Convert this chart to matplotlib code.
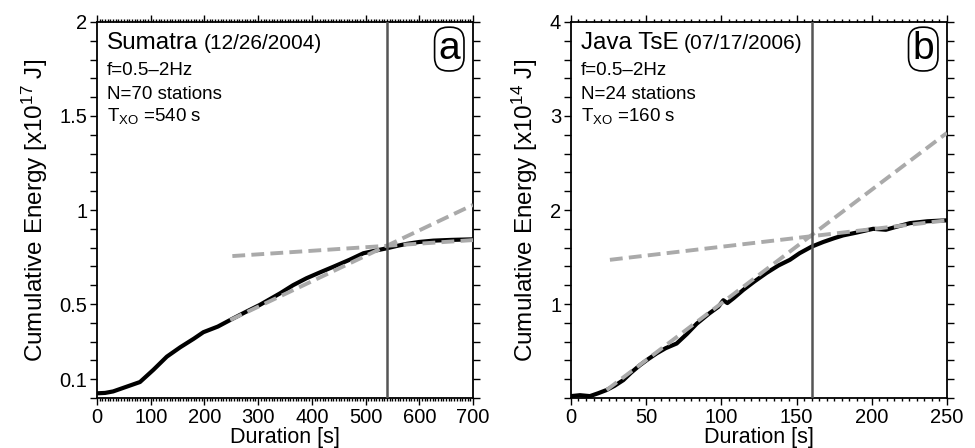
import numpy as np
import matplotlib
matplotlib.use('Agg')
import matplotlib.pyplot as plt
from matplotlib.ticker import MultipleLocator, FixedLocator

plt.rcParams['font.family'] = ['Liberation Sans', 'DejaVu Sans']
plt.rcParams['mathtext.fontset'] = 'custom'
plt.rcParams['mathtext.rm'] = 'Liberation Sans'
plt.rcParams['mathtext.it'] = 'Liberation Sans'

# --- panel a: Sumatra ---
sum_t = [0, 15, 30, 55, 80, 105, 130, 155, 180, 198, 225, 248, 275, 303, 341, 365, 390,
         415, 440, 470, 496, 520, 539, 560, 577, 600, 626, 660, 700]
sum_e = [0.025, 0.027, 0.035, 0.06, 0.085, 0.15, 0.22, 0.27, 0.315, 0.35, 0.38, 0.415,
         0.455, 0.495, 0.557, 0.6, 0.637, 0.668, 0.698, 0.735, 0.77, 0.785, 0.796,
         0.81, 0.82, 0.83, 0.837, 0.841, 0.844]
sum_fit1_t, sum_fit1_e = [248, 700], [0.415, 1.027]
sum_fit2_t, sum_fit2_e = [252, 700], [0.755, 0.84]
sum_txo = 540

# --- panel b: Java TsE ---
java_t = [0, 6, 12.6, 18, 23.7, 29, 34.8, 40, 45.9, 51, 57, 63, 70.3, 77, 83.6, 92,
          98, 101.3, 104, 108, 114.6, 122, 130, 138, 145.6, 152, 160, 167.8, 175,
          181, 190, 201, 209.4, 216, 225.4, 237, 250]
java_e = [0.02, 0.03, 0.02, 0.05, 0.085, 0.13, 0.19, 0.27, 0.35, 0.41, 0.475, 0.53,
          0.58, 0.68, 0.79, 0.9, 0.97, 1.04, 1.01, 1.06, 1.15, 1.24, 1.33, 1.41, 1.47,
          1.54, 1.61, 1.66, 1.7, 1.73, 1.76, 1.8, 1.79, 1.82, 1.86, 1.88, 1.89]
java_fit1_t, java_fit1_e = [23.7, 250], [0.085, 2.82]
java_fit2_t, java_fit2_e = [25.9, 250], [1.47, 1.89]
java_txo = 160

GRAY = '#aaaaaa'
DASH = (0, (3.3, 1.6))

fig = plt.figure(figsize=(9.75, 4.48), dpi=100)
ax_a = fig.add_axes([0.0995, 0.1116, 0.3856, 0.8393])
ax_b = fig.add_axes([0.5856, 0.1116, 0.3856, 0.8393])


def draw_panel(ax, t, e, fit1, fit2, txo, xlim, ylim, xmajor, ymajor, yminor,
               ylabel, title, date, nsta, txo_txt, letter):
    ax.plot(t, e, color='black', lw=3.0, solid_capstyle='butt', zorder=3)
    ax.plot(fit1[0], fit1[1], color=GRAY, lw=2.8, ls=DASH, zorder=4)
    ax.plot(fit2[0], fit2[1], color=GRAY, lw=2.8, ls=DASH, zorder=4)
    ax.axvline(txo, color='#555555', lw=1.8, zorder=5)
    ax.set_xlim(*xlim)
    ax.set_ylim(*ylim)

    ax.set_xticks(np.arange(xlim[0], xlim[1] + 1, xmajor))
    ax.set_xticks([x for x in range(int(xlim[0]), int(xlim[1]) + 1, 5) if x % xmajor],
                  minor=True)
    ax.yaxis.set_major_locator(FixedLocator(ymajor))
    ax.yaxis.set_minor_locator(MultipleLocator(yminor))
    ax.tick_params(axis='both', which='both', direction='out', top=True, right=True,
                   width=1.0, labelsize=14.5, pad=2)
    ax.tick_params(axis='y', which='both', length=5)
    ax.tick_params(axis='x', which='major', length=5)
    ax.tick_params(axis='x', which='minor', length=2)
    ax.tick_params(labelright=False, labeltop=False)
    ax.set_yticklabels([f'{v:g}' for v in ymajor])
    for s in ax.spines.values():
        s.set_linewidth(1.3)

    ax.set_xlabel('Duration [s]', fontsize=15.5, labelpad=0)
    ax.set_ylabel(ylabel, fontsize=17.5, labelpad=7)

    tw = ax.text(0.027, 0.945, title, transform=ax.transAxes, fontsize=17.5,
                 va='center')
    fig.canvas.draw()
    bb = tw.get_window_extent().transformed(ax.transAxes.inverted())
    ax.text(bb.x1 + 0.014, 0.943, date, transform=ax.transAxes, fontsize=15,
            va='center')
    ax.text(0.027, 0.872, 'f=0.5\u20132Hz', transform=ax.transAxes, fontsize=13.5,
            va='center')
    ax.text(0.027, 0.806, nsta, transform=ax.transAxes, fontsize=13.5, va='center')
    ax.text(0.027, 0.75, txo_txt, transform=ax.transAxes, fontsize=13.5, va='center')
    ax.text(0.937, 0.928, letter, transform=ax.transAxes, fontsize=28,
            ha='center', va='center',
            bbox=dict(boxstyle='round,pad=0.1,rounding_size=0.35', fc='white',
                      ec='black', lw=1.2))


draw_panel(ax_a, sum_t, sum_e, (sum_fit1_t, sum_fit1_e), (sum_fit2_t, sum_fit2_e),
           sum_txo, (0, 700), (0, 2), 100, [0.1, 0.5, 1, 1.5, 2], 0.1,
           r'Cumulative Energy [x10$^{\mathregular{17}}$ J]',
           'Sumatra', '(12/26/2004)', 'N=70 stations',
           r'T$_{\mathregular{XO}}$ =540 s', 'a')
draw_panel(ax_b, java_t, java_e, (java_fit1_t, java_fit1_e), (java_fit2_t, java_fit2_e),
           java_txo, (0, 250), (0, 4), 50, [1, 2, 3, 4], 0.2,
           r'Cumulative Energy [x10$^{\mathregular{14}}$ J]',
           'Java TsE', '(07/17/2006)', 'N=24 stations',
           r'T$_{\mathregular{XO}}$ =160 s', 'b')

fig.savefig('out.png', dpi=100)
